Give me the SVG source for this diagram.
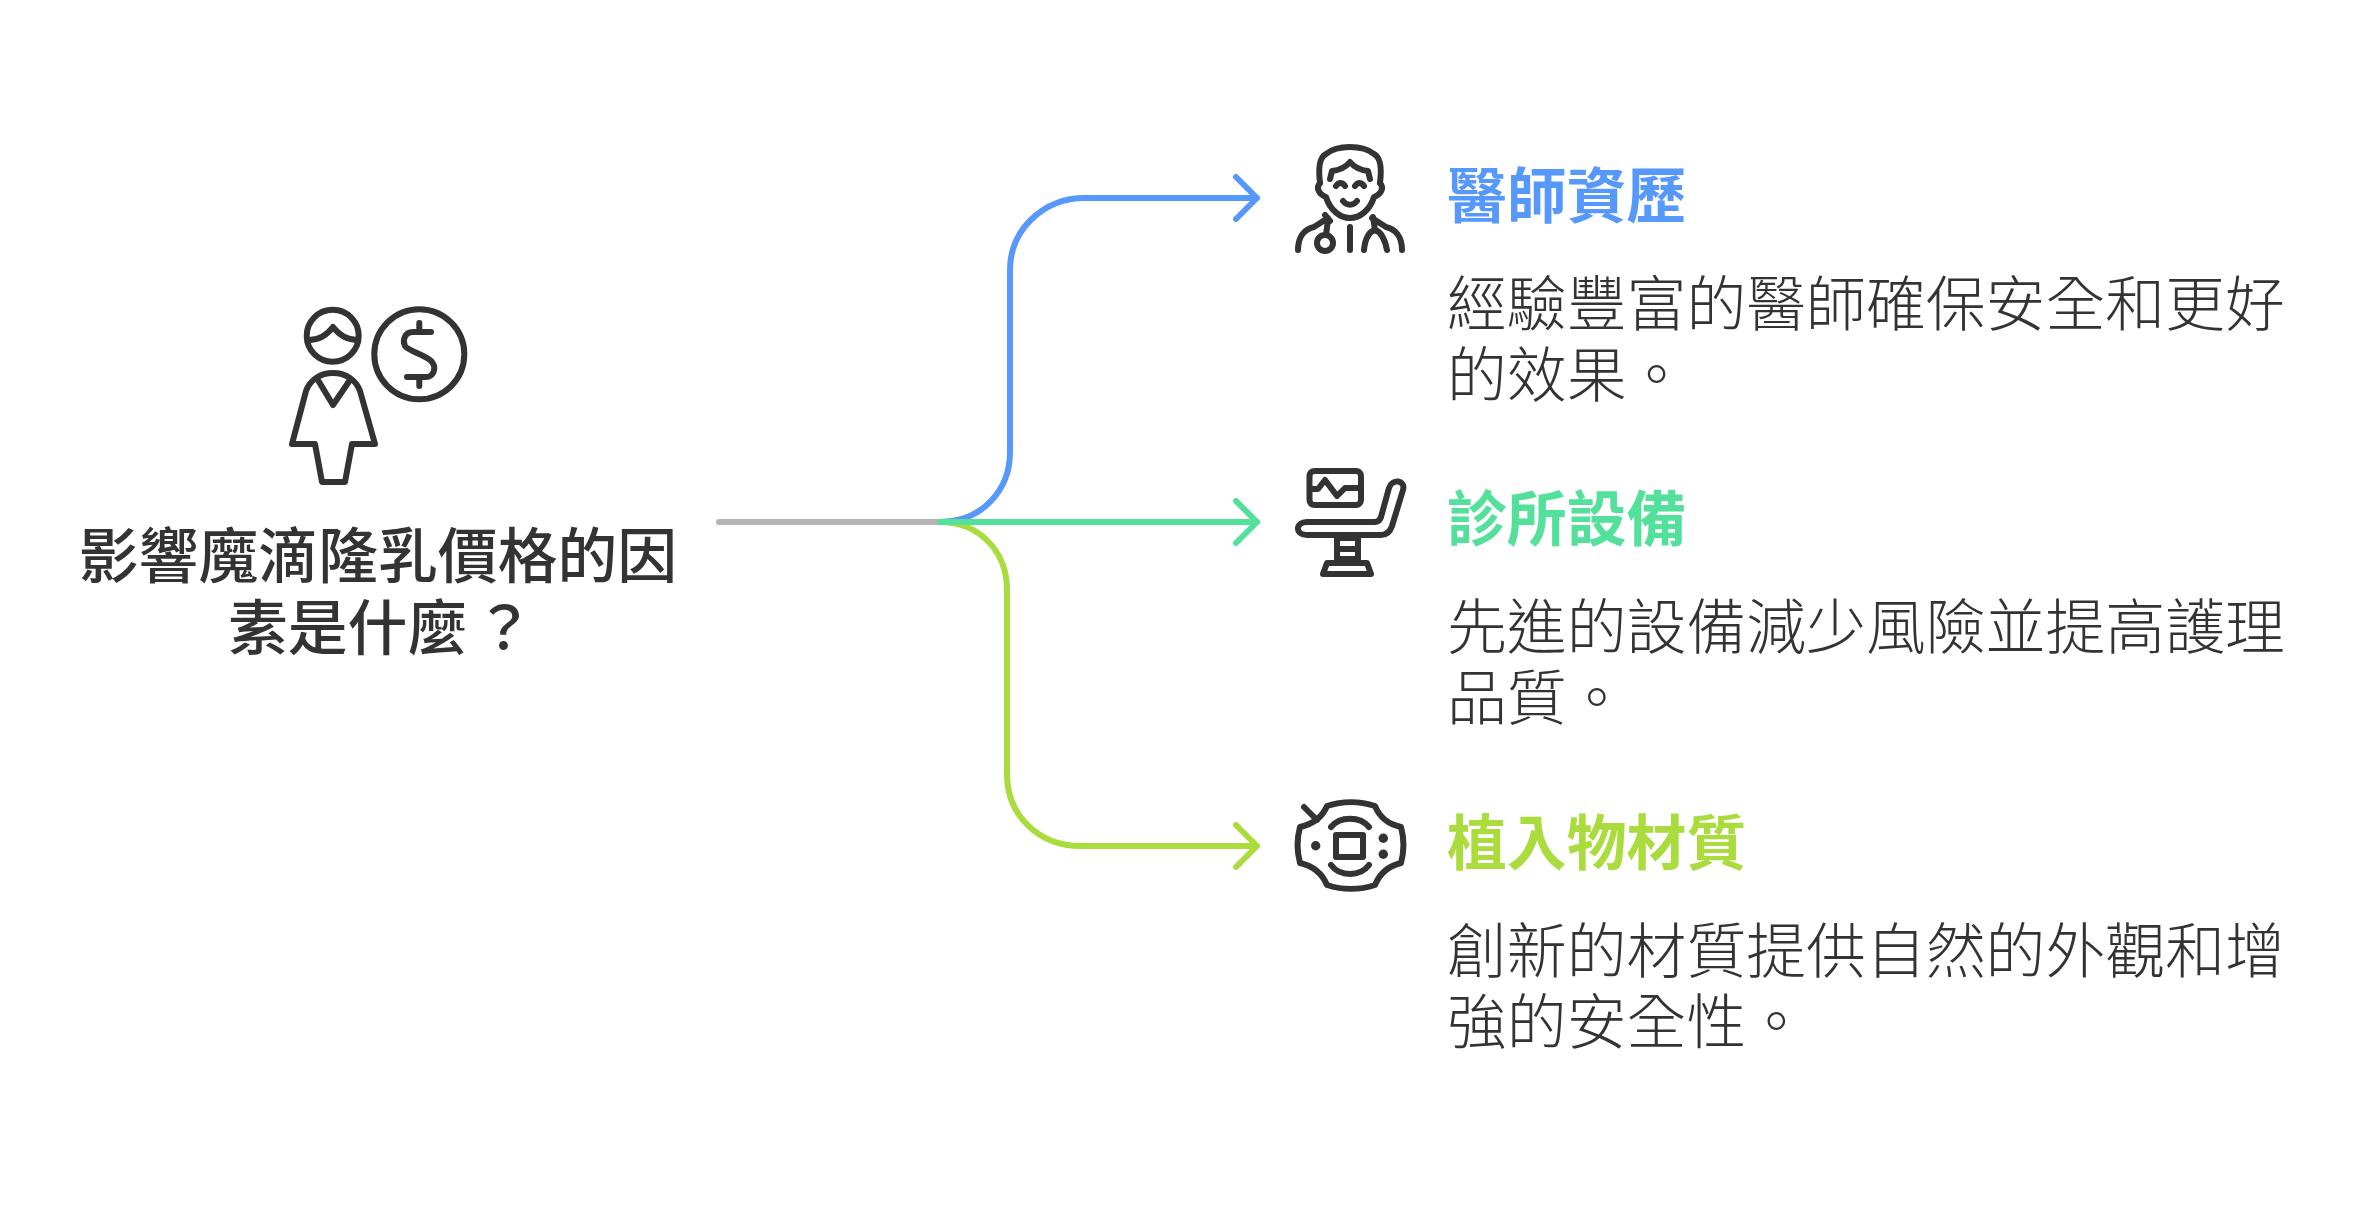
<svg xmlns="http://www.w3.org/2000/svg" width="2376" height="1206" viewBox="0 0 2376 1206">
<style>
text{font-family:"Noto Sans CJK TC","Noto Sans CJK SC",sans-serif;font-size:59.85px}
.main{font-weight:500;fill:#333;text-anchor:middle}
.title{font-weight:700}
.body{font-weight:300;fill:#333}
.ic{fill:none;stroke:#333;stroke-width:6;stroke-linecap:round;stroke-linejoin:round}
.c{fill:none;stroke-width:6;stroke-linecap:round;stroke-linejoin:round}
</style>
<rect width="2376" height="1206" fill="#fff"/>
<g id="connectors">
<path class="c" stroke="#5698FB" d="M940 522C982 522 1010 490 1010 452V270C1010 230 1043 198 1085 198H1257M1236 177L1257 198L1236 219"/>
<path class="c" stroke="#A9DC3C" d="M940 522C980 522 1007 552 1007 590V774C1007 815 1038 846 1081 846H1257M1236 825L1257 846L1236 867"/>
<path class="c" stroke="#B5B5B5" d="M719 522H940"/>
<path class="c" stroke="#52E09B" d="M940 522H1257M1236 501L1257 522L1236 543"/>
</g>
<g id="root">
<g class="ic">
<circle cx="332.7" cy="335.7" r="26"/>
<path d="M309 340C320 340 327 335 333 327C339 335 346 340 358 340"/>
<circle cx="419.3" cy="354.3" r="45"/>
<path d="M431 332H413C405 332 402 340 405 346C408 351 428 356 432 362C437 369 433 377 426 377H407M419.300 323V332M419.300 377V386"/>
<path d="M333 373C320 373 310 380 306 391L292 444H315L322 482H345L352 444H375L360 391C356 380 346 373 333 373ZM316.700 378L333 405L349.300 381"/>
</g>
<text class="main" x="378" y="578">影響魔滴隆乳價格的因</text>
<text class="main" x="381" y="650">素是什麼<tspan dx="7">？</tspan></text>
</g>
<g id="node1">
<g class="ic">
<path d="M1320 183C1318 167 1320 157 1326 154C1332 149 1340 147 1350 147C1360 147 1368 149 1374 154C1380 157 1382 167 1380 183"/>
<path d="M1320 183C1316 187 1318 194 1326 197C1330 210 1340 218 1350 218C1360 218 1370 210 1374 197C1382 194 1384 187 1380 183"/>
<path d="M1330 179L1332 171C1340 170 1346 167 1350 162C1354 167 1360 170 1368 171L1370 179"/>
<path d="M1336 186C1339 182 1342 182 1345 186M1355 186C1358 182 1361 182 1364 186M1343 201C1347 206 1353 206 1357 201"/>
<path d="M1298 250C1298 236 1305 229 1314 227L1328 218M1325 215L1330 221M1328 220L1326 235M1350 227V250M1372 218L1386 227C1395 229 1402 236 1402 250M1373 217L1375 230M1375 230C1368 232 1365 240 1364 250M1375 230C1382 232 1385 240 1387 250"/>
<circle cx="1325" cy="243" r="8"/>
</g>
<text class="title" x="1447" y="218" fill="#5698FB">醫師資歷</text>
<text class="body" x="1447" y="326">經驗豐富的醫師確保安全和更好</text>
<text class="body" x="1447" y="397">的效果。</text>
</g>
<g id="node2">
<g class="ic">
<rect x="1309.500" y="471" width="51.500" height="34" rx="5"/>
<path d="M1310 489H1318L1325 480L1337 496L1345 488H1360"/>
<path d="M1307 522H1375C1378 522 1380 520 1381 517L1389 488C1392 478 1406 480 1403 490L1392 526C1390 532 1386 535 1381 535H1307C1295 535 1295 522 1307 522Z"/>
<path d="M1337 535V563M1358 535V563M1337 538H1358M1337 549H1358M1337 559H1358M1327 563H1367L1371 574H1323Z"/>
</g>
<text class="title" x="1447" y="541" fill="#52E09B">診所設備</text>
<text class="body" x="1447" y="649">先進的設備減少風險並提高護理</text>
<text class="body" x="1447" y="720">品質。</text>
</g>
<g id="node3">
<g class="ic">
<path d="M1304 807L1317 820M1327 806C1342 801 1360 801 1375 806C1380 818 1388 824 1401 827C1404 838 1404 852 1401 863C1388 866 1380 873 1375 885C1360 890 1342 890 1327 885C1322 873 1313 866 1300 863C1297 852 1297 838 1300 827C1313 824 1322 818 1327 806Z"/>
<rect x="1336" y="835" width="27" height="22"/>
<path d="M1331 827C1340 816 1360 816 1369 827M1331 865C1340 877 1360 877 1369 865"/>
</g>
<circle cx="1315.700" cy="845.700" r="4.700" fill="#333"/>
<circle cx="1383.300" cy="838.300" r="4.700" fill="#333"/>
<circle cx="1383.300" cy="854.300" r="4.700" fill="#333"/>
<text class="title" x="1447" y="865" fill="#A9DC3C">植入物材質</text>
<text class="body" x="1447" y="973">創新的材質提供自然的外觀和增</text>
<text class="body" x="1447" y="1044">強的安全性。</text>
</g>
</svg>
